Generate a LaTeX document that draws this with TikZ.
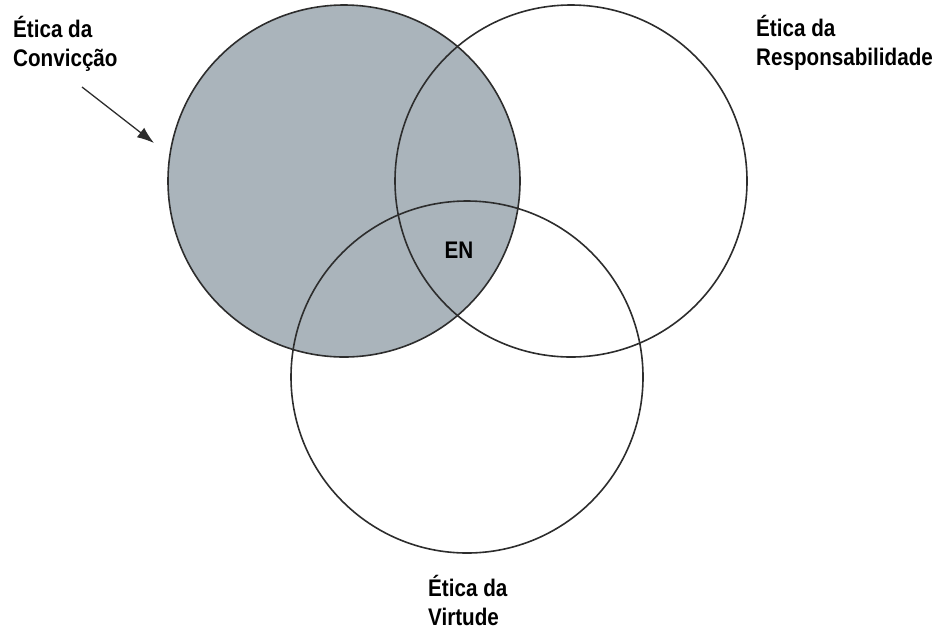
\documentclass[tikz,border=0pt]{standalone}
\usepackage{fontspec}
\newfontfamily\labfont[FakeStretch=0.86]{Liberation Sans}
\usetikzlibrary{arrows.meta}
\definecolor{fillgrey}{RGB}{170,180,187}
\definecolor{edge}{RGB}{45,45,45}
\tikzset{
  venn/.style={draw=edge, line width=1.6pt},
  lab/.style={inner sep=0pt, align=left, font=\labfont\bfseries\fontsize{24}{29}\selectfont},
  pointer/.style={draw=edge, line width=1.3pt, -{Latex[length=17pt,width=12pt]}}
}
\begin{document}
\begin{tikzpicture}[x=1pt,y=-1pt]
\useasboundingbox (0,0) rectangle (937,630);
% circles
\fill[fillgrey] (344,181) circle[radius=176];
\draw[venn] (344,181) circle[radius=176];
\draw[venn] (571,181) circle[radius=176];
\draw[venn] (467,377) circle[radius=176];
% labels (base anchor = baseline of the last line)
\node[lab, anchor=base west] (conv) at (13,66) {Ética da\\Convicção};
\node[lab, anchor=base west] (resp) at (756,65) {Ética da\\Responsabilidade};
\node[lab, anchor=base west] (virt) at (428,625) {Ética da\\Virtude};
\node[lab, anchor=base] (en) at (459,258) {EN};
% arrow
\coordinate (astart) at (82,87);
\coordinate (aend) at (154,143);
\draw[pointer] (astart) -- (aend);
\end{tikzpicture}
\end{document}
